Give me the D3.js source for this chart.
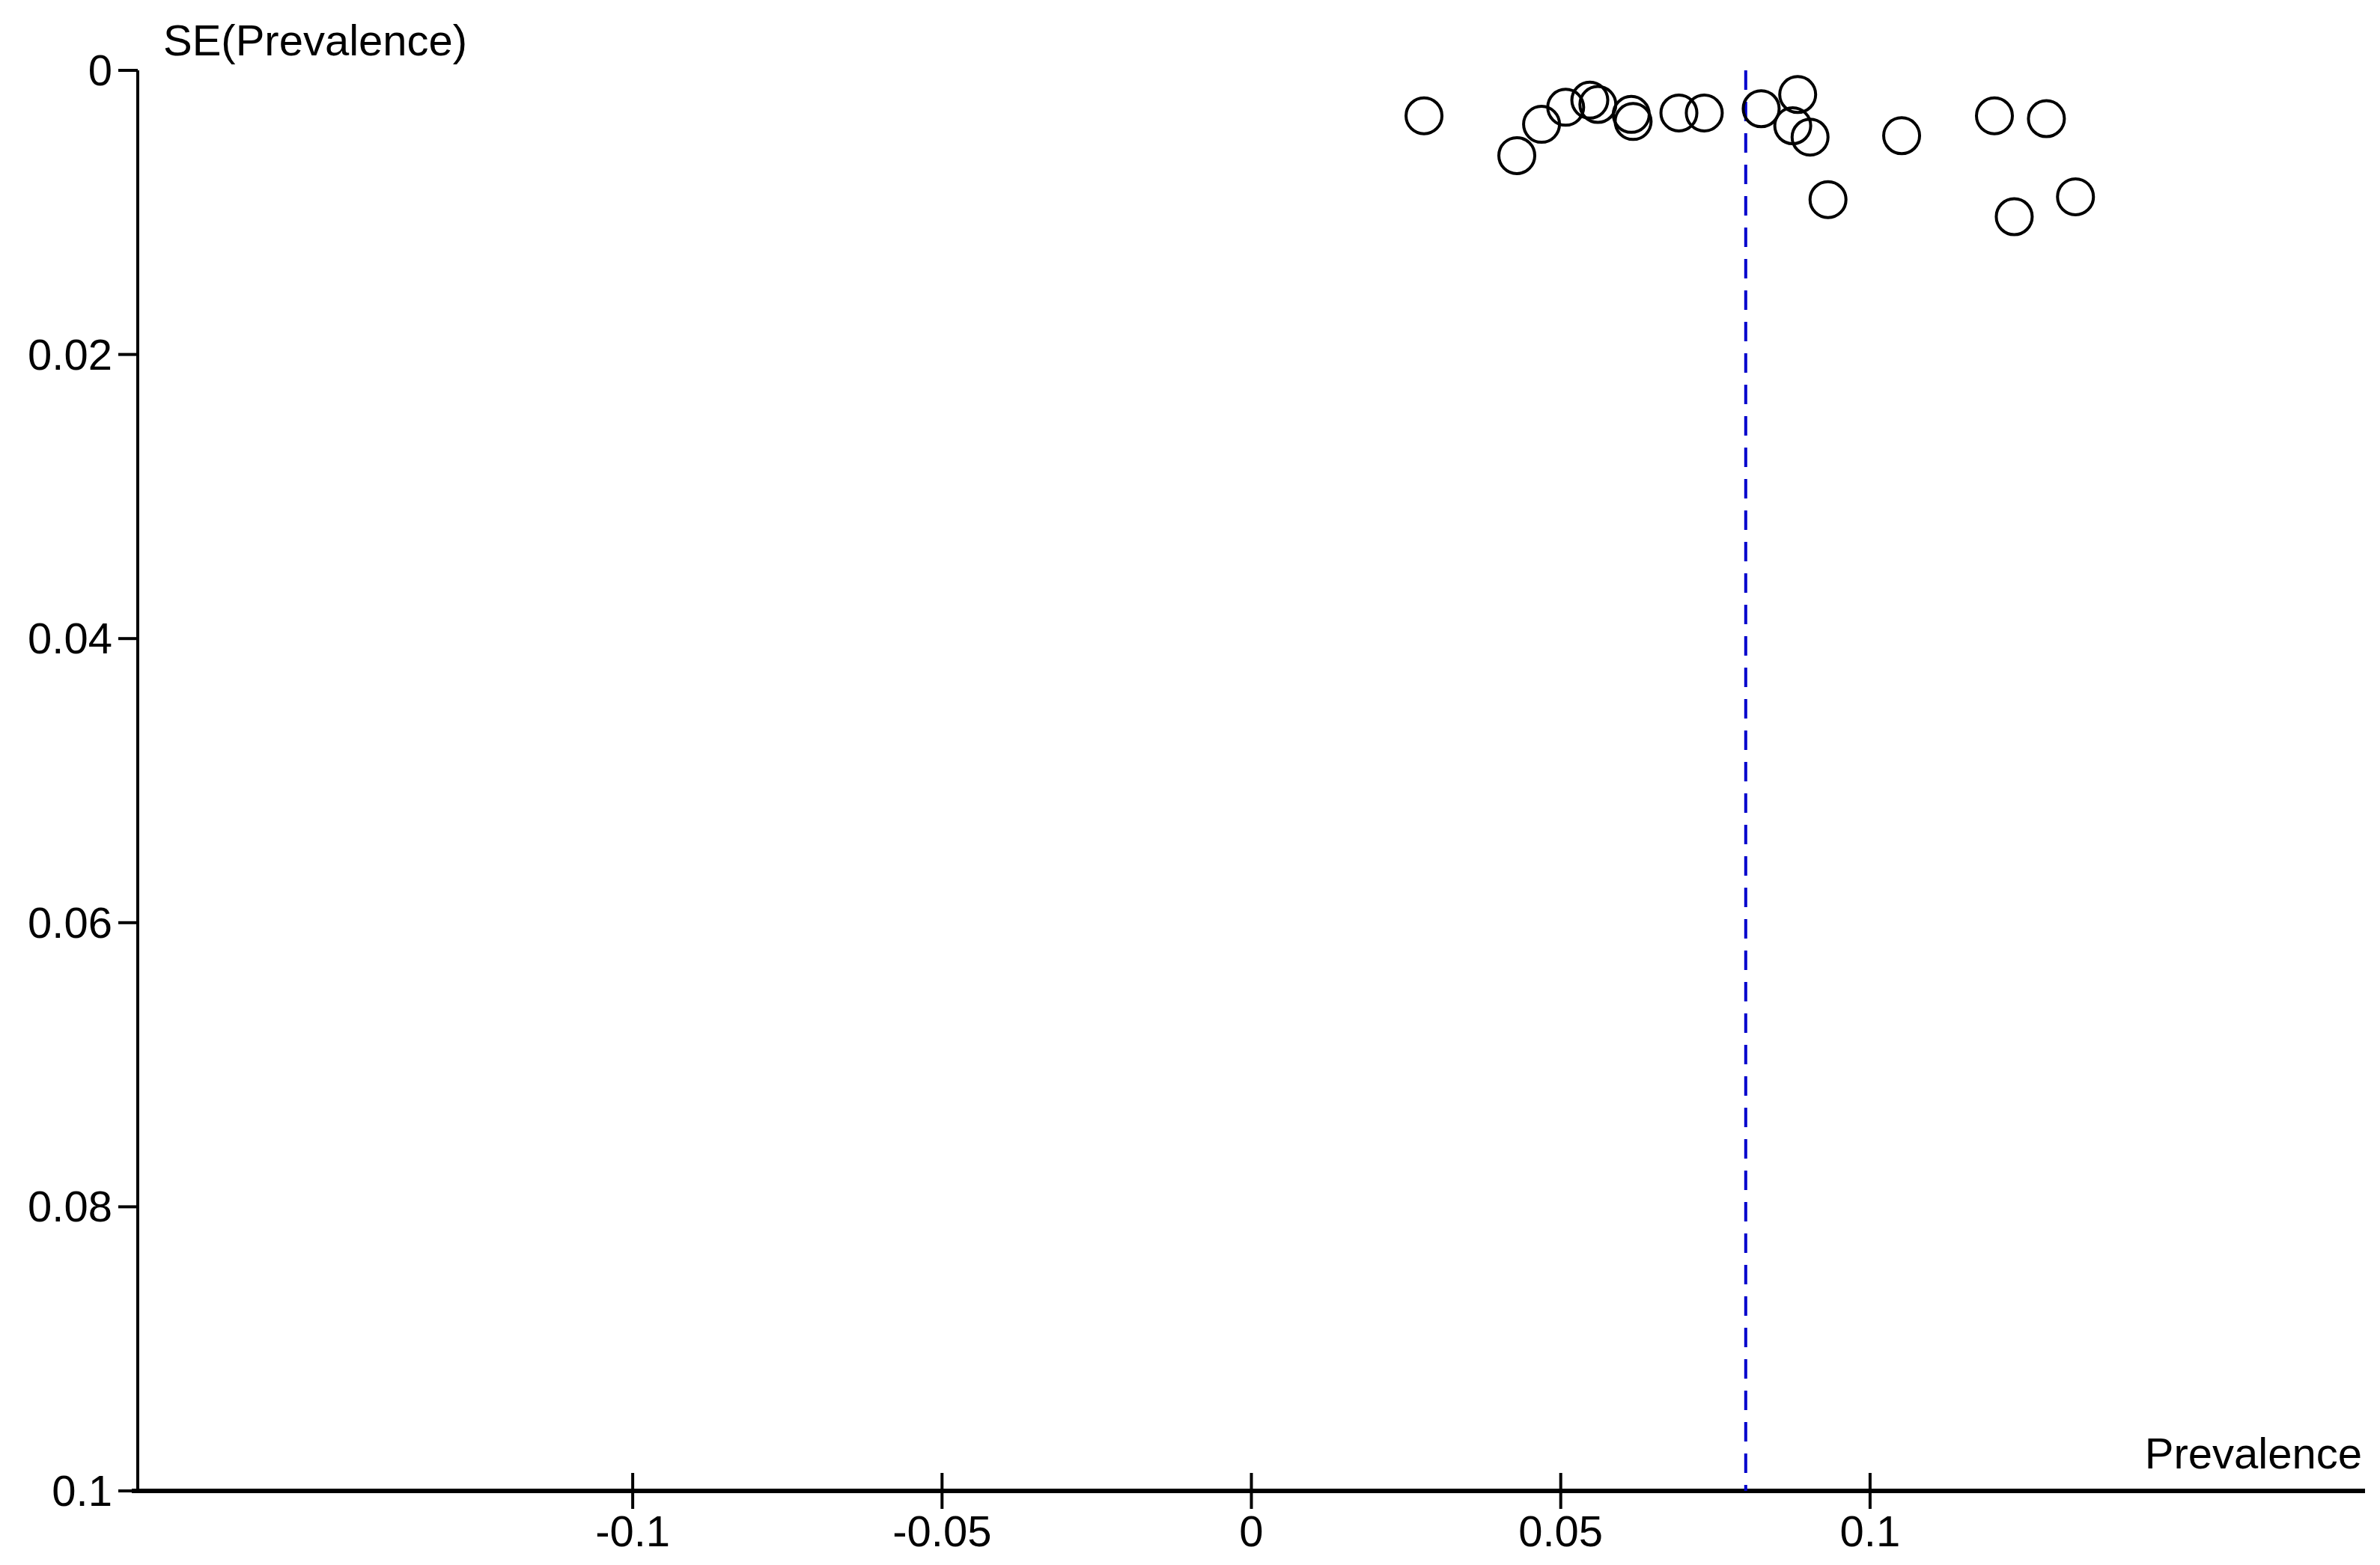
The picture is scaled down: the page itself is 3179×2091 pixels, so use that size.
<!DOCTYPE html>
<html><head><meta charset="UTF-8">
<script src="https://cdn.jsdelivr.net/npm/d3@7"></script>
<style>body{margin:0;background:#fff}text{font-family:"Liberation Sans Narrow","Liberation Sans",Arial,sans-serif;fill:#000}</style>
</head><body>
<svg id="chart" width="3179" height="2091"></svg>
<script>
// study estimates
var prevalence = [0.0279,0.0429,0.0469,0.0508,0.0547,0.0560,0.0614,0.0617,0.0691,0.0732,0.0824,0.0883,0.0875,0.0903,0.0932,0.1051,0.1201,0.1233,0.1285,0.1332];
var se = [0.0032,0.0060,0.0038,0.0026,0.0021,0.0024,0.0031,0.0036,0.0030,0.0030,0.0027,0.0017,0.0039,0.0047,0.0091,0.0046,0.0032,0.0103,0.0034,0.0089];
var pooled = 0.0799;
var xTicks = [-0.1,-0.05,0,0.05,0.1];
var yTicks = [0,0.02,0.04,0.06,0.08,0.1];

var svg = d3.select("#chart");
var mLeft = 184, mRight = 3159, mTop = 94, mBottom = 1992;
var x = d3.scaleLinear().domain([-0.18,0.18]).range([mLeft,mRight]);
var y = d3.scaleLinear().domain([0,0.1]).range([mTop,mBottom]);

// y axis
svg.append("line").attr("x1",mLeft).attr("x2",mLeft).attr("y1",mTop).attr("y2",mBottom).attr("stroke","#000").attr("stroke-width",4);
yTicks.forEach(function(t){
  svg.append("line").attr("x1",mLeft-26).attr("x2",mLeft).attr("y1",y(t)).attr("y2",y(t)).attr("stroke","#000").attr("stroke-width",4);
  svg.append("text").attr("x",mLeft-34).attr("y",y(t)+20).attr("text-anchor","end").attr("font-size",58).text(String(t));
});
// x axis
svg.append("line").attr("x1",mLeft-8).attr("x2",mRight).attr("y1",mBottom).attr("y2",mBottom).attr("stroke","#000").attr("stroke-width",6);
xTicks.forEach(function(t){
  svg.append("line").attr("x1",x(t)).attr("x2",x(t)).attr("y1",mBottom-24).attr("y2",mBottom+24).attr("stroke","#000").attr("stroke-width",4);
  svg.append("text").attr("x",x(t)).attr("y",mBottom+74).attr("text-anchor","middle").attr("font-size",58).text(String(t));
});
svg.append("text").attr("x",218).attr("y",74).attr("font-size",58).text("SE(Prevalence)");
svg.append("text").attr("x",3155).attr("y",1962).attr("text-anchor","end").attr("font-size",58).text("Prevalence");

// pooled estimate
svg.append("line").attr("x1",x(pooled)).attr("x2",x(pooled)).attr("y1",mTop).attr("y2",mBottom)
  .attr("stroke","#0000cc").attr("stroke-width",4).attr("stroke-dasharray","26,16");

svg.selectAll("circle.pt").data(prevalence).enter().append("circle")
  .attr("class","pt").attr("cx",function(d){return x(d);}).attr("cy",function(d,i){return y(se[i]);})
  .attr("r",24).attr("fill","none").attr("stroke","#000").attr("stroke-width",4);
</script>
</body></html>
